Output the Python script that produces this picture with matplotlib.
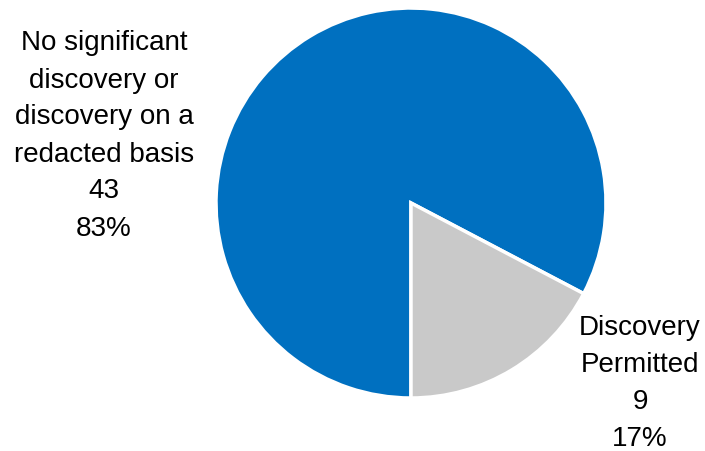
import matplotlib.pyplot as plt

categories = ["No significant\ndiscovery or\ndiscovery on a\nredacted basis", "Discovery\nPermitted"]
counts = [43, 9]
colors = ["#0070C0", "#C9C9C9"]

total = sum(counts)
percents = [round(100 * c / total) for c in counts]

fig = plt.figure(figsize=(7.05, 4.52), dpi=100)
W, H = 705, 452
cx, cy, r = 411, 204, 195
ax = fig.add_axes([(cx - r) / W, (H - cy - r) / H, 2 * r / W, 2 * r / H])

# grey slice sits from 6 o'clock going counter-clockwise
start = -90 + 360 * counts[1] / total
ax.pie(counts, colors=colors, startangle=start, counterclock=True,
       wedgeprops=dict(edgecolor="white", linewidth=2.5))
ax.set_xlim(-1.0, 1.0)
ax.set_ylim(-1.0, 1.0)
ax.set_aspect("equal")

font = dict(family="Liberation Sans", size=20, color="black",
            ha="center", va="center", multialignment="center", linespacing=1.55)
fig.text(104 / W, 1 - 136 / H, f"{categories[0]}\n{counts[0]}\n{percents[0]}%", **font)
fig.text(640 / W, 1 - 384 / H, f"{categories[1]}\n{counts[1]}\n{percents[1]}%", **font)

fig.savefig("out.png", dpi=100)
